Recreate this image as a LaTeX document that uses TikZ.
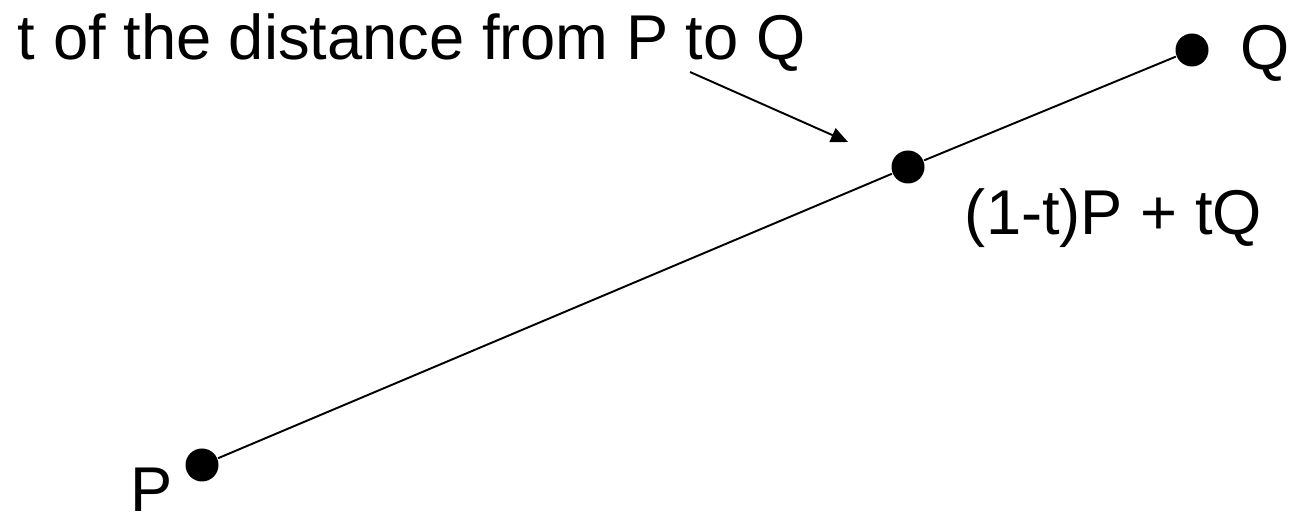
\documentclass[tikz,border=0pt]{standalone}
\usepackage{fontspec}
\setmainfont{Liberation Sans}
\usetikzlibrary{arrows.meta, positioning}
\tikzset{
  every picture/.style={line width=1.1pt},
  dot/.style={circle, fill=black, inner sep=0pt, minimum size=0.66cm},
  lbl/.style={font=\fontsize{36}{43}\selectfont, inner sep=0pt, anchor=base west},
  arrow/.style={-{Triangle[length=0.34cm, width=0.3cm]}, line width=1.1pt},
}
\begin{document}
\begin{tikzpicture}
  \useasboundingbox (0,0) rectangle (25.82,10.34);
  \node[dot] (P) at (4.04,1.04) {};
  \node[dot] (Q) at (23.84,9.34) {};
  \node[dot] (M) at (18.16,7.00) {};
  \draw (P) -- (M) -- (Q);
  \node[lbl] (lP) at (2.60,0.10) {P};
  \node[lbl] (lQ) at (24.80,8.94) {Q};
  \node[lbl] (lM) at (19.28,5.64) {(1-t)P + tQ};
  \node[lbl] (frac) at (0.34,9.14) {t of the distance from P to Q};
  % arrow from the caption down to the point on the segment
  \coordinate (tail) at (13.80,8.90);
  \coordinate (tip) at (16.96,7.50);
  \draw[arrow] (tail) -- (tip);
\end{tikzpicture}
\end{document}
